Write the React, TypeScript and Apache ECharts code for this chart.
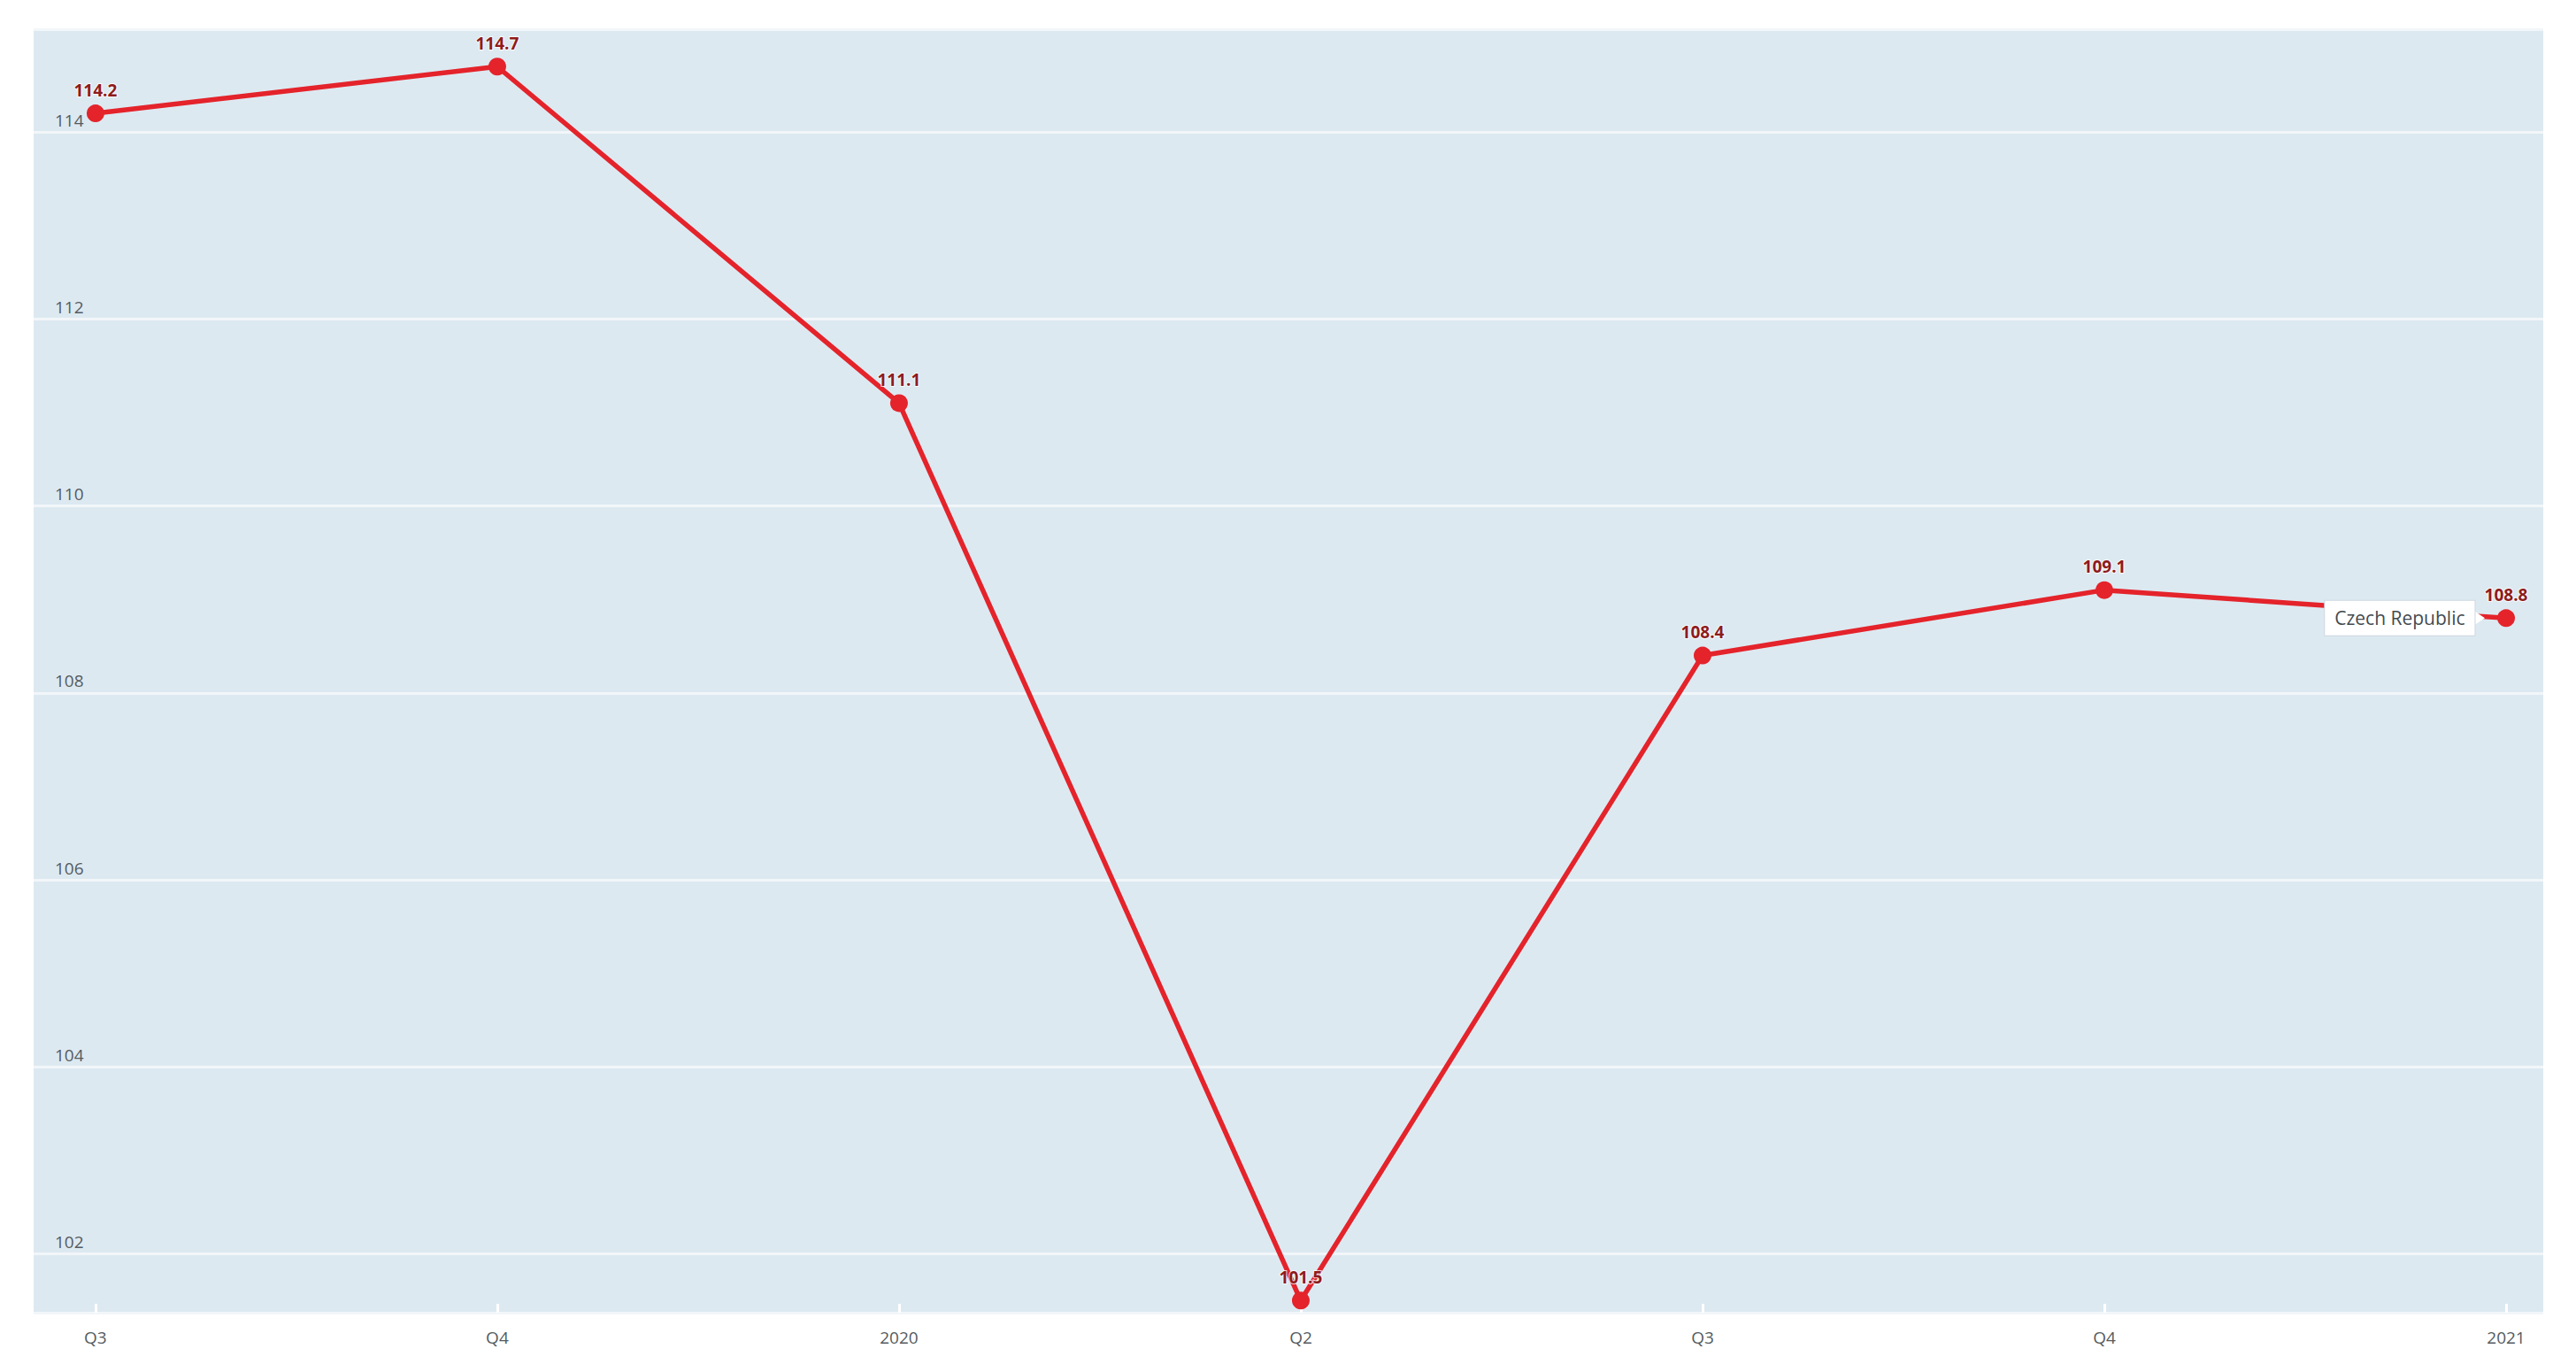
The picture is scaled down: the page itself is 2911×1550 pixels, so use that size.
import React, { useEffect, useRef } from "react";
import * as echarts from "echarts";

const categories = ["Q3", "Q4", "2020", "Q2", "Q3", "Q4", "2021"];
const values = [114.2, 114.7, 111.1, 101.5, 108.4, 109.1, 108.8];
const seriesName = "Czech Republic";

const lineColor = "#e4232b";
const labelColor = "#8e1b1b";
const axisTextColor = "#555b60";
const plotBg = "#dde9f1";

export default function App() {
  const ref = useRef<HTMLDivElement>(null);
  useEffect(() => {
    if (!ref.current) return;
    const chart = echarts.init(ref.current, null, { renderer: "svg" });
    const lastIdx = values.length - 1;
    const lastVal = values[lastIdx];
    chart.setOption({
      animation: false,
      backgroundColor: "#ffffff",
      textStyle: { fontFamily: "Open Sans" },
      grid: {
        left: 38,
        right: 37,
        top: 33,
        bottom: 67,
        show: true,
        backgroundColor: plotBg,
        borderWidth: 0,
      },
      xAxis: {
        type: "value",
        min: -0.154,
        max: 6.0925,
        splitNumber: 6,
        axisLine: { show: false },
        splitLine: { show: false },
        axisTick: { show: true, inside: true, length: 10, lineStyle: { color: "#ffffff", width: 3 } },
        axisLabel: {
          showMinLabel: false,
          showMaxLabel: false,
          margin: 18,
          fontSize: 19,
          color: axisTextColor,
          formatter: (v: number) => {
            const r = Math.round(v);
            return Math.abs(v - r) < 1e-6 && categories[r] !== undefined ? categories[r] : "";
          },
        },
      },
      yAxis: {
        type: "value",
        min: 101.37,
        max: 115.1,
        splitNumber: 7,
        axisLine: { show: false },
        axisTick: { show: false },
        splitLine: { lineStyle: { color: "#f2f6f9", width: 3 } },
        axisLabel: {
          inside: true,
          margin: 24,
          verticalAlign: "bottom",
          padding: [0, 0, 4, 0],
          fontSize: 19,
          color: axisTextColor,
          showMinLabel: false,
          showMaxLabel: false,
        },
      },
      series: [
        {
          type: "line",
          name: seriesName,
          data: values.map((v, i) => [i, v]),
          symbol: "circle",
          symbolSize: 20,
          lineStyle: { color: lineColor, width: 5.5 },
          itemStyle: { color: lineColor },
          label: {
            show: true,
            position: "top",
            distance: 7,
            fontSize: 19,
            fontWeight: "bold",
            color: labelColor,
            textBorderColor: "rgba(255,255,255,0.8)",
            textBorderWidth: 2,
            formatter: (p: any) => Number(p.value[1]).toFixed(1),
          },
          markPoint: {
            silent: true,
            data: [
              {
                coord: [lastIdx, lastVal],
                symbol: "triangle",
                symbolRotate: -90,
                symbolSize: [16, 12],
                symbolOffset: [-30, 0],
                itemStyle: { color: "#ffffff" },
                label: { show: false },
              },
              {
                coord: [lastIdx, lastVal],
                symbol: "circle",
                symbolSize: 1,
                itemStyle: { color: "rgba(0,0,0,0)" },
                label: {
                  show: true,
                  position: "left",
                  distance: 35,
                  formatter: seriesName,
                  backgroundColor: "#ffffff",
                  borderColor: "#cdd7e0",
                  borderWidth: 1,
                  padding: [9, 11, 9, 11],
                  fontSize: 21,
                  color: "#444a50",
                },
              },
            ],
          },
        },
      ],
    });
    return () => chart.dispose();
  }, []);
  return (
    <div
      ref={ref}
      style={{ position: "fixed", left: 0, top: 0, width: "2911px", height: "1550px" }}
    />
  );
}
